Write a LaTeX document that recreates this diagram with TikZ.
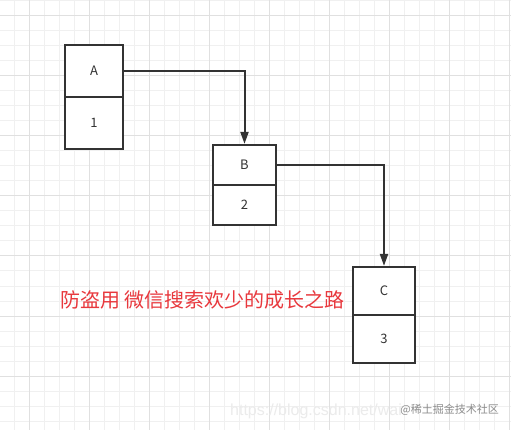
\documentclass[tikz,border=0pt]{standalone}
\usepackage{fontspec}
\setmainfont{Noto Sans}
\newfontfamily\cjk{Noto Sans CJK SC}
\newfontfamily\wmfont{Liberation Sans}
\usetikzlibrary{arrows.meta}
\definecolor{gridminor}{RGB}{240,240,240}
\definecolor{gridmajor}{RGB}{224,224,224}
\definecolor{boxline}{RGB}{51,51,51}
\definecolor{txt}{RGB}{51,51,51}
\definecolor{redtxt}{RGB}{232,56,61}
\tikzset{
  cell/.style={draw=boxline, line width=2.2pt, fill=white, rectangle, inner sep=0pt,
    minimum width=#1, font=\cjk\fontsize{13}{13}\selectfont, text=txt},
  link/.style={draw=boxline, line width=2pt, -{Triangle[length=12pt,width=8pt]}},
  minorline/.style={draw=gridminor, line width=1pt},
  majorline/.style={draw=gridmajor, line width=1pt},
}
\begin{document}
\begin{tikzpicture}[x=1pt,y=-1pt]
\useasboundingbox[fill=white] (0,0) rectangle (511,430);
% grid
\foreach \i in {0,...,34} {\draw[minorline] (-1+15*\i,0) -- (-1+15*\i,430);}
\foreach \i in {0,...,28} {\draw[minorline] (0,1+15*\i) -- (511,1+15*\i);}
\foreach \i in {0,...,8} {\draw[majorline] (29+60*\i,0) -- (29+60*\i,430);}
\foreach \i in {0,...,6} {\draw[majorline] (0,16+60*\i) -- (511,16+60*\i);}
% boxes
\node[cell=58pt, minimum height=52pt] (Atop) at (94,71) {A};
\node[cell=58pt, minimum height=52pt] (Abot) at (94,123) {1};
\node[cell=63pt, minimum height=40pt] (Btop) at (244.5,165) {B};
\node[cell=63pt, minimum height=40pt] (Bbot) at (244.5,205) {2};
\node[cell=62pt, minimum height=48pt] (Ctop) at (384,291) {C};
\node[cell=62pt, minimum height=48pt] (Cbot) at (384,339) {3};
% links
\draw[link] (Atop.east) -| (Btop.north);
\draw[link] (Btop.east) -| (Ctop.north);
% texts
\node[font=\cjk\fontsize{20}{20}\selectfont, text=redtxt, inner sep=0pt] (note) at (202.5,300) {防盗用 微信搜索欢少的成长之路};
\node[font=\wmfont\fontsize{16}{16}\selectfont, text=black!8, inner sep=0pt, anchor=west] (wm1) at (230,411) {https://blog.csdn.net/wai};
\node[font=\cjk\fontsize{11}{11}\selectfont, text=black!45, inner sep=0pt, anchor=east] (wm2) at (499,410) {@稀土掘金技术社区};
\end{tikzpicture}
\end{document}
